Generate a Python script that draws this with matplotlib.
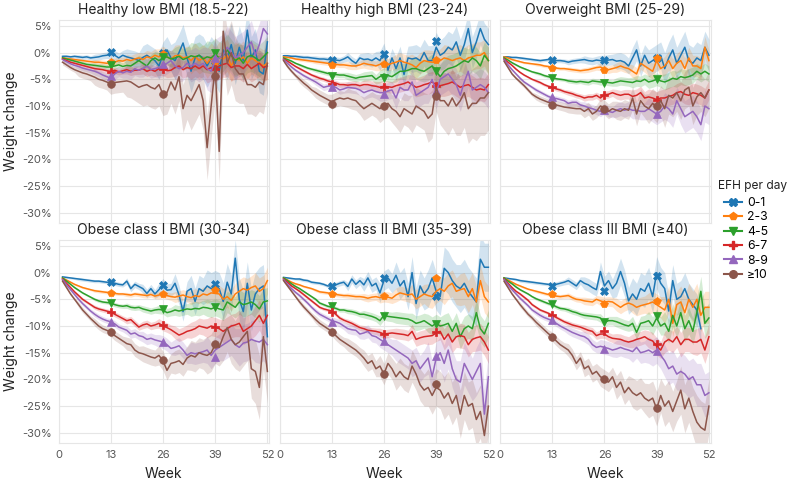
import numpy as np
import matplotlib.pyplot as plt
from matplotlib.lines import Line2D
from matplotlib.ticker import FuncFormatter

plt.rcParams['font.family'] = ['Inter', 'DejaVu Sans']

nan = np.nan
weeks = np.arange(1, 53)
mark_weeks = [13, 26, 39]
groups = ['0-1', '2-3', '4-5', '6-7', '8-9', '≥10']
titles = ['Healthy low BMI (18.5-22)', 'Healthy high BMI (23-24)', 'Overweight BMI (25-29)',
          'Obese class I BMI (30-34)', 'Obese class II BMI (35-39)', 'Obese class III BMI (≥40)']
colors = ['#1f77b4', '#ff7f0e', '#2ca02c', '#d62728', '#9467bd', '#8c564b']
markers = ['X', 'p', 'v', 'P', '^', 'o']

# weekly mean weight change (%), one list per EFH group
hlow_mean = [
    [-0.7,-0.7,-0.8,-0.7,-0.8,-0.9,-0.8,-1.0,-0.9,-0.8, -0.6,-0.5,-0.3,-0.5,-1.0,-0.5,-0.8,-1.0,-1.2,-1.5,
     -0.9,-0.5,-1.0,-1.5,-2.5,-0.5,0.5,-1.0,-1.5,0.0, 1.8,-1.0,-3.5,-1.0,-0.5,-1.0,-2.5,-1.0,-2.0,-3.5,
     0.5,-1.0,1.5,-2.0,1.0,-1.5,4.2,-1.0,0.5,-3.5,-4.0,2.0],
    [-1.0,-1.1,-1.2,-1.3,-1.4,-1.5,-1.6,-1.7,-1.8,-1.8, -1.9,-2.0,-2.0,-1.8,-1.5,-1.6,-1.3,-1.5,-1.2,-1.0,
     -1.3,-0.8,-1.0,-0.5,-0.8,-0.3,-0.8,-1.2,-0.6,-0.5, -1.0,-0.8,-1.5,-0.7,-1.5,-1.0,-2.0,-1.0,-1.8,-0.8,
     -1.2,-0.5,-2.5,-1.0,-1.5,-0.8,-2.0,-1.0,-1.5,-2.0,-2.5,-2.0],
    [-1.0,-1.2,-1.4,-1.6,-1.8,-2.0,-2.2,-2.3,-2.4,-2.5, -2.6,-2.7,-2.7,-2.5,-2.3,-2.6,-2.4,-2.5,-2.0,-1.5,
     -2.0,-2.5,-1.5,-1.0,-1.5,-1.0,-0.8,-1.2,-1.0,-0.7, -1.3,-1.0,-0.6,-0.8,-0.5,-1.2,-0.8,-1.0,-0.3,-1.0,
     -0.5,0.5,-0.5,-1.5,-1.0,-2.0,-0.8,-0.5,-1.0,-1.5,-0.8,0.0],
    [-1.2,-1.5,-1.8,-2.0,-2.2,-2.4,-2.6,-2.8,-3.0,-3.1, -3.2,-3.4,-3.5,-3.3,-3.6,-3.4,-3.2,-3.5,-3.3,-3.3,
     -3.0,-3.5,-3.2,-3.5,-3.0,-3.0,-3.4,-3.3,-2.8,-2.5, -3.2,-2.8,-3.0,-2.5,-3.0,-2.5,-3.2,-2.8,-3.0,-2.5,
     -2.2,-2.0,-2.8,-2.5,-2.5,-3.0,-2.2,-3.0,-2.5,-2.0,-2.8,-2.5],
    [-1.3,-1.7,-2.1,-2.4,-2.6,-2.9,-3.1,-3.3,-3.5,-3.8, -4.2,-4.5,-4.8,-4.0,-3.5,-3.8,-3.5,-3.7,-3.0,-3.3,
     -3.0,-2.5,-3.2,-3.0,-2.8,-2.5,-2.0,-1.5,-2.5,-3.0, -2.8,-2.0,-2.5,-2.0,-2.5,-2.0,-3.0,-3.5,-1.5,-1.0,
     -0.5,1.0,0.0,-1.0,-0.5,0.0,1.0,2.0,-0.5,1.5,4.5,3.5],
    [-1.8,-2.3,-2.8,-3.2,-3.5,-3.8,-4.0,-4.3,-4.6,-5.0, -5.2,-5.5,-5.8,-5.6,-5.5,-5.4,-5.3,-5.5,-6.0,-6.5,
     -6.2,-6.0,-6.5,-6.8,-6.0,-7.8,-7.5,-5.5,-7.0,-4.5, -10.5,-8.0,-9.0,-7.5,-6.0,-9.0,-17.8,-10.0,-2.5,-18.5,
     4.0,-2.0,0.0,-3.0,-4.0,-4.0,-6.0,-6.0,-6.5,-5.5,-6.0,-2.0],
]
hhigh_mean = [
    [-0.6,-0.6,-0.7,-0.7,-0.8,-0.9,-0.9,-1.0,-1.1,-1.2, -1.2,-1.3,-1.3,-1.4,-1.5,-1.2,-0.8,-1.5,-2.0,-1.0,
     -1.3,-1.2,-1.5,-1.0,-1.5,0.0,-3.3,-1.0,-3.0,-1.0, -4.1,-1.0,-1.2,-1.0,-1.5,0.0,-1.5,-1.5,1.0,-0.5,
     0.0,1.0,0.5,2.0,-0.5,1.5,4.5,0.0,2.0,4.5,2.5,1.5],
    [-0.8,-0.9,-1.0,-1.2,-1.3,-1.4,-1.5,-1.6,-1.7,-1.8, -1.9,-2.0,-2.1,-2.2,-2.3,-2.3,-2.4,-2.5,-2.5,-2.3,
     -2.0,-2.2,-2.3,-2.5,-2.2,-2.0,-2.3,-2.0,-1.8,-1.5, -1.8,-2.0,-2.3,-2.8,-2.0,-1.5,-1.7,-1.8,-1.8,-1.5,
     -1.0,-1.2,-1.5,-1.2,-1.0,-1.5,-1.0,-0.8,-0.5,-0.5,0.0,-1.5],
    [-1.0,-1.3,-1.6,-2.0,-2.3,-2.6,-2.9,-3.1,-3.3,-3.5, -3.7,-3.9,-4.0,-4.1,-4.2,-4.2,-4.4,-4.6,-4.8,-4.6,
     -4.5,-4.4,-4.3,-5.0,-4.5,-4.0,-4.3,-4.5,-4.0,-3.5, -3.5,-3.3,-3.0,-3.0,-3.3,-3.5,-3.0,-2.5,-3.5,-4.5,
     -3.5,-3.0,-2.8,-2.5,-2.0,-1.5,-1.8,-1.0,-1.5,-2.5,-0.5,-1.5],
    [-1.2,-1.6,-2.1,-2.6,-3.0,-3.4,-3.8,-4.2,-4.5,-4.8, -5.0,-5.3,-5.5,-5.7,-6.0,-6.0,-6.1,-6.0,-6.0,-6.2,
     -6.0,-6.0,-6.2,-6.3,-6.5,-6.3,-6.4,-6.5,-6.2,-6.0, -5.8,-5.5,-6.0,-6.5,-6.3,-6.0,-5.8,-5.5,-6.0,-6.2,
     -6.0,-5.8,-5.5,-6.0,-6.5,-6.2,-6.0,-6.5,-7.0,-6.8,-7.0,-6.0],
    [-1.3,-2.0,-2.7,-3.3,-3.8,-4.3,-4.7,-5.1,-5.5,-6.0, -6.5,-6.3,-6.2,-6.5,-7.0,-6.8,-6.5,-6.6,-6.7,-7.0,
     -7.5,-7.2,-7.0,-7.3,-7.5,-7.5,-7.2,-7.0,-8.5,-6.5, -7.0,-7.0,-5.5,-8.0,-7.5,-7.0,-6.5,-5.0,-7.5,-5.0,
     -4.5,-4.0,-5.0,-6.0,-8.0,-5.5,-3.5,-7.0,-6.5,-6.0,-6.5,-7.5],
    [-1.5,-2.6,-3.5,-4.3,-5.0,-5.7,-6.3,-7.0,-7.5,-8.0, -8.4,-8.8,-9.2,-8.8,-8.5,-8.7,-8.5,-8.8,-9.0,-9.8,
     -10.5,-10.0,-9.5,-10.0,-10.5,-9.8,-9.5,-10.5,-11.0,-12.0, -10.5,-11.0,-11.5,-10.0,-10.5,-11.0,-12.3,-11.5,-6.5,-9.0,
     -9.0,-10.0,-8.5,-10.0,-9.0,-7.5,-10.5,-9.5,-9.5,-8.5,-8.5,-7.5],
]
ovw_mean = [
    [-0.8,-0.8,-0.9,-0.9,-1.0,-1.1,-1.2,-1.3,-1.4,-1.5, -1.4,-1.3,-1.4,-1.5,-1.5,-1.6,-1.8,-1.6,-1.5,-1.4,
     -1.3,-1.5,-1.6,-1.4,-1.5,-1.5,-1.4,-1.3,-1.6,-1.5, -1.8,-2.5,-1.0,0.5,-2.5,-0.5,-2.0,-1.5,-1.0,-0.5,
     -3.0,-1.0,0.5,-2.0,-0.5,1.0,-1.5,-2.0,-1.0,-1.5,1.0,-0.5],
    [-0.8,-1.0,-1.3,-1.5,-1.7,-1.9,-2.0,-2.1,-2.2,-2.3, -2.5,-2.6,-2.8,-2.9,-3.0,-3.0,-3.1,-3.2,-3.3,-3.4,
     -3.3,-3.2,-3.0,-2.8,-2.7,-3.1,-3.2,-3.0,-2.8,-2.5, -2.8,-3.0,-3.5,-4.0,-2.0,-2.5,-3.0,-3.5,-1.5,-3.0,
     -2.5,-1.5,-3.0,-2.0,-1.5,-3.0,-1.0,-2.5,-2.5,-3.0,1.0,-1.5],
    [-1.0,-1.4,-1.9,-2.3,-2.7,-3.0,-3.3,-3.6,-3.8,-4.0, -4.3,-4.5,-4.7,-4.9,-5.0,-5.1,-5.3,-5.4,-5.5,-5.4,
     -5.5,-5.6,-5.3,-5.4,-5.5,-5.5,-5.6,-5.7,-5.5,-5.3, -5.4,-5.5,-5.6,-5.3,-5.4,-5.0,-5.5,-5.3,-5.0,-5.3,
     -5.5,-5.2,-4.8,-5.0,-4.5,-4.7,-4.5,-4.2,-3.5,-4.0,-3.5,-4.0],
    [-1.2,-1.8,-2.4,-3.1,-3.7,-4.2,-4.6,-5.0,-5.3,-5.6, -6.0,-6.3,-6.5,-6.8,-7.0,-7.3,-7.5,-7.7,-8.0,-8.2,
     -8.5,-8.3,-8.3,-8.0,-8.5,-7.9,-7.8,-7.5,-7.8,-8.0, -7.8,-7.8,-8.2,-8.0,-7.5,-8.5,-8.3,-8.5,-8.8,-8.5,
     -8.5,-8.2,-8.0,-7.5,-7.3,-7.8,-8.0,-7.5,-7.7,-8.0,-8.5,-7.0],
    [-1.3,-2.3,-3.2,-4.0,-4.8,-5.5,-6.0,-6.5,-7.0,-7.4, -7.8,-8.2,-8.5,-8.6,-8.8,-9.0,-9.5,-9.3,-9.3,-9.8,
     -10.0,-10.3,-10.5,-10.8,-11.0,-10.5,-11.0,-11.2,-10.8,-10.5, -10.8,-10.5,-10.8,-10.8,-11.0,-11.0,-10.5,-11.0,-11.5,-11.0,
     -10.0,-10.5,-11.5,-9.0,-10.5,-12.0,-11.5,-11.0,-12.0,-13.5,-10.0,-10.5],
    [-1.6,-2.8,-4.0,-4.8,-5.5,-6.2,-7.0,-7.8,-8.3,-8.7, -9.0,-9.3,-9.5,-9.8,-10.0,-10.2,-10.3,-10.4,-10.5,-10.5,
     -11.0,-10.5,-11.5,-11.0,-10.0,-10.3,-11.0,-10.5,-10.8,-11.0, -10.5,-10.8,-8.5,-11.5,-9.0,-10.0,-10.5,-9.5,-10.3,-9.0,
     -10.5,-8.0,-8.5,-7.5,-9.0,-7.0,-6.5,-10.0,-8.3,-7.5,-8.5,-7.0],
]
ob1_mean = [
    [-0.8,-0.9,-1.0,-1.1,-1.2,-1.3,-1.4,-1.5,-1.6,-1.6, -1.7,-1.8,-1.9,-2.0,-2.2,-2.3,-1.6,-3.0,-2.2,-2.6,
     -3.0,-3.9,-3.0,-4.0,-3.2,-2.3,-3.3,-3.2,-2.0,-4.2, -7.3,-3.5,-3.0,-5.4,-3.0,-3.5,-2.5,-3.0,-2.6,-3.0,
     -5.4,-1.8,-4.0,2.7,-5.0,-7.3,-2.0,-7.0,-4.0,-3.0,-2.5,-12.0],
    [-1.0,-1.4,-1.8,-2.2,-2.5,-2.8,-3.0,-3.2,-3.4,-3.5, -3.6,-3.7,-3.8,-3.9,-4.0,-4.0,-4.1,-4.2,-4.0,-4.1,
     -4.2,-4.3,-4.1,-4.4,-4.2,-4.0,-4.3,-4.5,-4.6,-4.4, -4.2,-4.5,-4.7,-4.3,-4.5,-4.0,-4.2,-3.8,-3.9,-4.0,
     -5.0,-4.5,-5.2,-4.0,-3.5,-3.0,-3.3,-2.8,-2.5,-3.5,-3.0,-1.5],
    [-1.0,-1.6,-2.2,-2.8,-3.3,-3.8,-4.2,-4.6,-5.0,-5.3, -5.5,-5.6,-5.7,-6.0,-6.2,-6.3,-6.2,-6.5,-6.6,-6.5,
     -6.8,-7.0,-7.2,-7.0,-6.9,-7.0,-7.5,-7.3,-7.0,-7.2, -7.0,-6.8,-6.9,-6.7,-6.8,-6.5,-6.6,-6.8,-6.5,-6.8,
     -7.0,-5.5,-6.0,-6.5,-5.5,-6.0,-5.8,-5.5,-6.0,-6.8,-5.5,-5.3],
    [-1.2,-2.0,-2.8,-3.6,-4.3,-5.0,-5.5,-6.0,-6.5,-6.8, -7.0,-7.2,-7.4,-7.8,-8.2,-8.6,-9.0,-8.8,-9.5,-10.2,
     -9.8,-9.6,-10.0,-9.8,-9.5,-10.0,-10.3,-10.7,-11.2,-11.7, -11.4,-11.0,-10.8,-10.5,-10.0,-10.2,-10.4,-10.0,-10.2,-10.5,
     -11.0,-10.5,-10.0,-9.8,-9.5,-11.0,-10.5,-10.0,-9.0,-8.0,-9.5,-8.0],
    [-1.3,-2.3,-3.2,-4.1,-5.0,-5.8,-6.5,-7.2,-7.8,-8.3, -8.7,-9.0,-9.2,-9.6,-10.2,-10.5,-10.8,-11.5,-11.3,-11.8,
     -12.0,-12.5,-12.3,-12.6,-12.8,-13.0,-13.5,-14.2,-14.0,-13.7, -14.5,-15.5,-15.0,-15.2,-15.0,-14.8,-14.5,-15.5,-14.5,-14.0,
     -13.5,-13.0,-12.5,-13.5,-14.0,-13.2,-13.0,-12.5,-12.8,-13.0,-12.5,-13.5],
    [-1.6,-2.8,-4.0,-5.0,-6.0,-7.0,-7.8,-8.6,-9.3,-10.0, -10.5,-10.8,-11.1,-11.8,-12.3,-12.8,-13.3,-13.5,-14.5,-15.0,
     -15.2,-15.5,-15.8,-16.0,-15.5,-16.5,-18.3,-17.0,-16.8,-16.5, -17.2,-16.0,-15.5,-15.8,-15.0,-15.3,-15.5,-15.0,-13.5,-14.0,
     -12.0,-10.3,-12.5,-13.5,-13.0,-12.0,-11.0,-18.0,-18.5,-21.5,-12.0,-18.5],
]
ob2_mean = [
    [-0.9,-1.0,-1.1,-1.2,-1.2,-1.4,-1.5,-1.8,-1.9,-2.0, -2.2,-2.5,-2.5,-2.3,-2.0,-1.8,-2.6,-1.2,-2.2,-1.5,
     -2.3,-1.0,-2.5,-2.0,-3.8,-1.5,-1.0,-2.0,-0.5,-2.5, -1.5,-4.5,0.0,-5.8,-2.5,-4.0,-3.0,-1.0,-3.5,-4.5,
     0.8,0.0,-1.5,-2.5,-3.0,-2.0,-3.5,-4.5,-5.5,2.5,1.0,1.0],
    [-1.0,-1.4,-1.8,-2.1,-2.3,-2.6,-2.8,-3.0,-3.3,-3.6, -3.7,-3.8,-4.0,-4.1,-4.2,-4.3,-4.3,-4.4,-4.5,-4.5,
     -4.6,-4.8,-4.6,-4.5,-4.7,-4.5,-4.6,-4.8,-4.2,-3.8, -4.0,-4.2,-4.0,-5.0,-4.5,-4.0,-4.3,-4.5,-3.5,-3.0,
     -3.5,-2.5,-2.0,-3.5,-3.2,-3.0,-4.5,-3.0,-5.5,-1.5,-4.5,-5.5],
    [-1.0,-1.5,-2.1,-2.6,-3.0,-3.5,-4.0,-4.5,-5.0,-5.7, -6.0,-6.3,-6.5,-6.7,-7.0,-7.0,-7.2,-7.3,-7.5,-7.8,
     -7.8,-8.0,-8.2,-8.5,-9.0,-8.0,-8.2,-8.3,-8.4,-8.5, -8.6,-8.7,-9.0,-9.5,-9.3,-9.0,-9.5,-10.0,-9.5,-10.0,
     -9.8,-9.5,-11.0,-9.5,-12.0,-10.5,-10.0,-10.5,-7.5,-10.5,-11.5,-9.5],
    [-1.2,-1.8,-2.5,-3.0,-3.5,-4.1,-4.7,-5.3,-5.9,-6.5, -6.8,-7.0,-7.2,-7.8,-8.5,-8.9,-9.2,-9.5,-9.9,-10.3,
     -10.5,-10.8,-10.9,-11.0,-11.2,-11.5,-11.4,-11.3,-11.4,-11.5, -11.6,-11.8,-11.0,-12.5,-12.2,-12.0,-11.9,-11.8,-11.3,-11.0,
     -12.5,-11.5,-13.0,-12.0,-11.8,-12.0,-13.5,-12.5,-12.2,-12.0,-13.0,-14.5],
    [-1.3,-2.2,-3.0,-3.7,-4.3,-5.0,-5.7,-6.5,-7.2,-7.8, -8.2,-8.6,-9.0,-9.2,-9.5,-10.0,-10.5,-10.7,-10.8,-11.5,
     -11.3,-11.0,-11.8,-12.0,-12.5,-13.0,-13.5,-14.0,-14.5,-15.0, -15.5,-16.0,-17.0,-16.5,-18.0,-17.0,-16.0,-19.5,-16.0,-15.0,
     -17.0,-14.5,-18.0,-20.0,-20.5,-17.0,-18.5,-20.0,-18.5,-17.0,-26.5,-19.5],
    [-1.5,-2.5,-3.5,-4.5,-5.5,-6.4,-7.2,-8.0,-8.8,-9.5, -10.0,-10.5,-11.0,-11.8,-12.5,-13.0,-13.5,-14.0,-14.5,-15.2,
     -16.0,-17.0,-16.5,-18.0,-17.5,-19.0,-17.0,-18.0,-19.5,-18.5, -19.5,-20.0,-17.5,-19.0,-21.0,-22.0,-21.5,-23.0,-21.5,-22.0,
     -23.5,-22.5,-24.5,-23.0,-26.5,-23.0,-25.0,-24.5,-27.5,-26.0,-30.5,-25.0],
]
ob3_mean = [
    [-1.0,-1.1,-1.2,-1.3,-1.5,-1.6,-1.7,-1.8,-1.9,-2.0, -2.1,-2.2,-2.3,-2.2,-2.0,-1.8,-1.5,-2.0,-2.5,-1.5,
     -2.0,-2.3,-2.8,-3.2,0.2,-2.5,-1.5,-3.0,-2.0,0.2, -2.0,-5.3,-4.0,-5.0,-3.0,-3.5,-2.0,-4.5,0.0,-2.0,
     -3.0,-7.2,-1.5,-5.0,-4.5,-3.0,-5.0,-6.0,-7.0,-10.5,nan,nan],
    [-1.0,-1.4,-1.8,-2.2,-2.5,-2.8,-3.1,-3.3,-3.5,-3.7, -3.9,-4.1,-4.3,-4.4,-4.5,-4.4,-4.3,-4.7,-5.0,-5.1,
     -5.3,-5.4,-5.5,-5.0,-5.3,-5.5,-5.4,-5.5,-6.0,-6.5, -6.0,-5.7,-6.0,-6.5,-6.2,-6.0,-5.8,-5.5,-6.0,-6.5,
     -7.0,-5.0,-9.5,-6.0,-5.5,-7.5,-5.0,-6.5,-5.0,-8.0,-6.5,-6.5],
    [-1.0,-1.6,-2.1,-2.7,-3.2,-3.6,-4.0,-4.5,-4.9,-5.2, -5.5,-5.8,-6.0,-6.4,-6.7,-6.8,-7.0,-7.3,-7.5,-7.8,
     -8.0,-8.1,-8.2,-8.3,-8.5,-9.3,-9.0,-9.0,-9.2,-9.5, -9.8,-10.0,-9.5,-11.2,-9.5,-9.3,-9.0,-10.0,-8.5,-10.0,
     -9.5,-11.0,-8.0,-10.0,-7.5,-10.5,-9.0,-11.0,-7.5,-3.5,-9.5,-8.5],
    [-1.2,-2.0,-2.8,-3.5,-4.0,-4.6,-5.2,-6.0,-6.5,-7.0, -7.3,-7.6,-8.0,-8.4,-8.8,-9.2,-9.5,-9.8,-10.0,-10.2,
     -10.5,-10.8,-11.0,-11.8,-11.5,-11.5,-12.0,-12.3,-12.4,-12.5, -12.8,-13.0,-12.8,-12.5,-12.3,-12.0,-12.5,-12.8,-13.8,-14.5,
     -13.0,-12.5,-13.0,-12.0,-13.5,-12.5,-12.5,-13.0,-13.0,-12.5,-14.5,-12.0],
    [-1.3,-2.3,-3.2,-4.0,-4.8,-5.5,-6.2,-7.0,-7.5,-8.0, -8.4,-8.7,-9.0,-9.5,-10.0,-10.4,-10.8,-11.2,-11.5,-11.8,
     -12.0,-12.5,-13.5,-14.0,-13.8,-14.0,-14.2,-14.5,-14.3,-14.0, -14.3,-14.5,-14.8,-14.0,-15.0,-14.8,-14.5,-15.0,-14.5,-15.5,
     -16.5,-18.0,-17.5,-19.0,-18.5,-19.0,-20.0,-19.5,-21.0,-21.0,-23.0,-22.5],
    [-1.6,-2.8,-4.0,-5.0,-6.0,-6.9,-7.8,-8.5,-9.3,-10.0, -10.7,-11.4,-12.0,-12.8,-13.5,-14.0,-14.5,-15.5,-17.0,-16.0,
     -18.0,-17.5,-19.0,-18.5,-19.5,-20.0,-20.5,-19.5,-21.5,-20.5, -22.5,-21.5,-22.5,-23.0,-22.5,-23.5,-24.0,-23.5,-25.5,-23.0,
     -25.0,-24.0,-26.0,-24.0,-22.0,-25.5,-23.5,-26.0,-28.0,-29.0,-29.5,-25.0],
]

# quarterly marker values at weeks 13, 26, 39
hlow_marks = [[0.2, 0.0, -2.4], [-1.7, -0.2, -1.8], [-2.4, -0.8, -0.1],
              [-3.7, -3.0, -3.0], [-4.4, -2.2, -1.1], [-5.8, -7.8, -4.3]]
hhigh_marks = [[-1.3, -0.3, 2.1], [-2.3, -2.2, -1.4], [-4.3, -4.8, -3.5],
               [-5.8, -6.4, -6.2], [-6.5, -7.8, -7.1], [-9.6, -10.0, -8.1]]
ovw_marks = [[-1.3, -1.3, -1.0], [-2.8, -3.2, -1.1], [-4.8, -5.6, -4.9],
             [-6.4, -7.9, -8.8], [-8.4, -10.8, -11.5], [-9.8, -10.6, -10.0]]
ob1_marks = [[-1.8, -2.3, -2.1], [-3.8, -4.0, -3.2], [-5.7, -6.9, -6.5],
             [-7.4, -9.8, -10.1], [-9.2, -13.0, -15.8], [-11.1, -16.3, -13.4]]
ob2_marks = [[-2.6, -1.1, -4.3], [-4.0, -4.4, -1.1], [-6.2, -8.1, -9.6],
             [-7.3, -11.5, -11.2], [-9.2, -12.9, -15.7], [-11.2, -18.9, -20.8]]
ob3_marks = [[-2.5, -3.4, -0.6], [-4.0, -5.8, -5.4], [-5.8, -9.3, -8.2],
             [-7.9, -11.0, -13.3], [-8.9, -14.3, -14.6], [-12.1, -20.0, -25.4]]

# confidence band half-width (%), one value per 4-week block
hlow_band = [[0.3,0.4,0.6,0.9,1.5,2.2,2.5,3.5,4.0,4.0,4.0,4.0,4.0],
             [0.3,0.3,0.5,0.7,1.0,1.2,1.5,2.0,2.5,2.8,3.0,3.0,3.0],
             [0.3,0.4,0.5,0.7,1.0,1.2,1.5,2.0,2.5,3.0,3.0,3.0,3.0],
             [0.3,0.4,0.5,0.6,0.8,1.0,1.3,1.6,2.0,2.5,2.5,2.5,2.5],
             [0.4,0.5,0.7,1.0,1.3,1.6,2.0,2.5,3.0,4.0,4.0,4.0,4.0],
             [0.5,1.0,1.5,2.0,3.0,3.8,4.0,4.5,5.5,6.0,6.0,5.5,5.5]]
hhigh_band = [[0.3,0.4,0.5,0.6,0.8,1.2,1.8,2.2,2.5,2.8,3.0,3.0,3.0],
              [0.2,0.3,0.4,0.5,0.7,0.9,1.2,1.5,2.0,2.2,2.5,2.5,2.5],
              [0.2,0.3,0.4,0.5,0.7,0.9,1.2,1.5,2.0,2.2,2.5,2.5,2.5],
              [0.2,0.3,0.4,0.5,0.7,0.9,1.1,1.4,1.8,2.0,2.2,2.2,2.2],
              [0.3,0.4,0.6,0.8,1.0,1.3,1.6,2.0,2.5,3.0,3.0,3.0,3.0],
              [0.4,0.7,1.0,1.4,1.8,2.2,2.6,3.0,3.5,4.5,5.5,6.5,7.0]]
ovw_band = [[0.2,0.3,0.3,0.4,0.5,0.7,1.0,1.5,2.0,2.5,3.0,3.0,3.0],
            [0.2,0.2,0.3,0.3,0.4,0.5,0.7,0.9,1.2,1.5,1.8,2.0,2.0],
            [0.2,0.2,0.3,0.3,0.4,0.5,0.6,0.8,1.0,1.2,1.5,1.5,1.5],
            [0.2,0.2,0.3,0.4,0.5,0.6,0.7,0.9,1.2,1.5,1.7,1.8,1.8],
            [0.2,0.3,0.4,0.5,0.6,0.8,1.0,1.3,1.6,2.0,2.5,3.0,3.0],
            [0.3,0.4,0.6,0.8,1.0,1.2,1.4,1.7,2.2,2.8,3.5,3.5,3.5]]
ob1_band = [[0.2,0.3,0.3,0.4,0.6,0.8,1.2,1.8,2.5,3.0,3.5,4.0,4.0],
            [0.2,0.2,0.3,0.3,0.4,0.5,0.7,1.0,1.3,1.6,2.0,2.2,2.5],
            [0.2,0.2,0.3,0.4,0.5,0.6,0.8,1.0,1.3,1.6,2.0,2.3,2.5],
            [0.2,0.3,0.4,0.5,0.6,0.7,0.9,1.2,1.5,1.8,2.2,2.5,2.8],
            [0.3,0.4,0.5,0.6,0.8,1.0,1.2,1.5,2.0,2.5,3.0,3.5,4.0],
            [0.3,0.5,0.7,0.9,1.2,1.5,1.8,2.2,2.8,3.5,4.5,5.5,6.0]]
ob2_band = [[0.2,0.3,0.3,0.5,0.8,1.2,1.8,2.5,3.0,3.5,4.0,4.5,4.5],
            [0.2,0.2,0.3,0.4,0.5,0.7,1.0,1.3,1.8,2.2,2.5,3.0,3.0],
            [0.2,0.2,0.3,0.4,0.5,0.7,0.9,1.1,1.4,1.7,2.0,2.3,2.5],
            [0.2,0.3,0.3,0.4,0.5,0.6,0.8,1.0,1.3,1.6,2.0,2.3,2.5],
            [0.3,0.4,0.5,0.7,0.9,1.2,1.5,2.0,2.5,3.0,3.5,4.0,4.5],
            [0.3,0.5,0.7,0.9,1.2,1.5,2.0,2.5,3.0,3.5,4.0,4.5,5.0]]
ob3_band = [[0.2,0.3,0.3,0.5,0.7,1.2,1.8,2.5,3.0,3.0,3.0,3.0,3.0],
            [0.2,0.2,0.3,0.4,0.5,0.7,0.9,1.2,1.6,2.0,2.5,3.0,3.0],
            [0.2,0.2,0.3,0.4,0.5,0.6,0.8,1.0,1.3,1.7,2.2,2.5,2.8],
            [0.2,0.3,0.3,0.4,0.5,0.7,0.8,1.0,1.3,1.6,2.0,2.3,2.5],
            [0.3,0.4,0.5,0.6,0.8,1.0,1.3,1.6,2.0,2.5,3.0,3.5,4.0],
            [0.3,0.5,0.7,0.9,1.2,1.5,1.8,2.2,2.8,3.2,3.8,4.5,5.0]]

panel_means = [hlow_mean, hhigh_mean, ovw_mean, ob1_mean, ob2_mean, ob3_mean]
panel_marks = [hlow_marks, hhigh_marks, ovw_marks, ob1_marks, ob2_marks, ob3_marks]
panel_bands = [hlow_band, hhigh_band, ovw_band, ob1_band, ob2_band, ob3_band]

W, H = 794, 490
fig = plt.figure(figsize=(W / 100, H / 100), dpi=100)
lefts = [58.5, 279.5, 500]
tops = [20, 240]
aw, ah = 210.5, 203

pct = FuncFormatter(lambda v, p: f"{int(round(v))}%")

for i in range(6):
    r, c = divmod(i, 3)
    ax = fig.add_axes([lefts[c] / W, 1 - (tops[r] + ah) / H, aw / W, ah / H])
    for k in range(6):
        m = np.array(panel_means[i][k])
        b = np.repeat(panel_bands[i][k], 4)
        ax.fill_between(weeks, m - b, m + b, color=colors[k], alpha=0.2, lw=0)
        ax.plot(weeks, m, color=colors[k], lw=1.1)
        ax.plot(mark_weeks, panel_marks[i][k], ls='none', marker=markers[k],
                color=colors[k], ms=5.5, mew=0.5)
    ax.set_xlim(0, 52.4)
    ax.set_ylim(-31.9, 6.1)
    ax.set_xticks([0, 13, 26, 39, 52])
    ax.set_yticks([5, 0, -5, -10, -15, -20, -25, -30])
    ax.yaxis.set_major_formatter(pct)
    ax.grid(True, color='#e6e6e6', lw=0.8)
    ax.set_axisbelow(True)
    for s in ax.spines.values():
        s.set_color('#e6e6e6')
        s.set_linewidth(0.8)
    ax.tick_params(length=0, labelsize=8, colors='#555555', pad=5)
    if r == 0:
        ax.tick_params(labelbottom=False)
    else:
        ax.set_xlabel('Week', fontsize=10, color='#222222', labelpad=5)
    if c == 0:
        ax.set_ylabel('Weight change', fontsize=10, color='#222222', labelpad=3)
    else:
        ax.tick_params(labelleft=False)
    ax.set_title(titles[i], fontsize=10, color='#222222', pad=4)

handles = [Line2D([], [], color=colors[k], lw=1.5, marker=markers[k], ms=5.5)
           for k in range(6)]
fig.text(718 / W, 1 - 186 / H, 'EFH per day', fontsize=8.6, color='#222222', va='center')
fig.legend(handles, groups, loc='upper left', bbox_to_anchor=(724 / W, 1 - 197 / H),
           frameon=False, fontsize=8.8, handlelength=1.5, handletextpad=0.4,
           labelspacing=0.2, borderpad=0, borderaxespad=0)

fig.savefig('out.png', dpi=100)
